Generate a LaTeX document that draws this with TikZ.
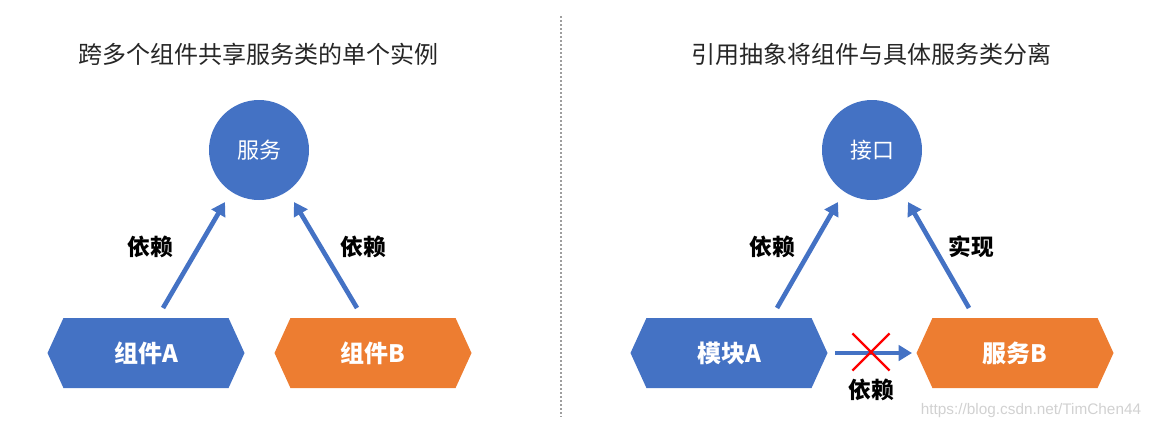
\documentclass[tikz,border=0pt]{standalone}
\usepackage{fontspec}
\setmainfont{Noto Sans CJK SC}
\newfontfamily\wmfont{Liberation Sans}
\usetikzlibrary{arrows.meta,shapes.symbols,shapes.misc}
\definecolor{svcblue}{HTML}{4472C4}
\definecolor{svcorange}{HTML}{ED7D31}
\begin{document}
\begin{tikzpicture}[x=0.75pt,y=-0.75pt,
	hexa/.style={signal, signal to=west and east, signal pointer angle=131,
		minimum width=147.75pt, minimum height=52.5pt, inner sep=0pt,
		text=white, font=\bfseries\fontsize{18}{20}\selectfont},
	ball/.style={circle, fill=svcblue, minimum size=75pt, inner sep=0pt,
		text=white, font=\fontsize{16.5}{18}\selectfont},
	dep/.style={svcblue, line width=3.5pt, -{Triangle[length=10pt,width=11.5pt]}},
	lbl/.style={font=\bfseries\fontsize{17}{19}\selectfont},
	title/.style={text=black!85, font=\fontsize{18}{20}\selectfont}]
	\useasboundingbox (0,0) rectangle (1150,430);
	% left: shared service
	\node[title] (ltitle) at (258,54) {跨多个组件共享服务类的单个实例};
	\node[ball] (svc) at (259,150) {服务};
	\node[hexa, fill=svcblue] (gA) at (146,353) {组件A};
	\node[hexa, fill=svcorange] (gB) at (373,353) {组件B};
	\draw[dep] ([shift={(17,-45)}]gA.center) -- ([shift={(-34,52)}]svc.center);
	\draw[dep] ([shift={(-16,-45)}]gB.center) -- ([shift={(35,52)}]svc.center);
	\node[lbl] (depA) at (150,247) {依赖};
	\node[lbl] (depB) at (363,247) {依赖};
	% divider
	\draw[black!38, line width=1.3pt, dash pattern=on 1.5pt off 1.5pt] (561,16) -- (561,417);
	% right: abstraction
	\node[title] (rtitle) at (871,54) {引用抽象将组件与具体服务类分离};
	\node[ball] (itf) at (872,150) {接口};
	\node[hexa, fill=svcblue] (mA) at (729,353) {模块A};
	\node[hexa, fill=svcorange] (sB) at (1015,353) {服务B};
	\draw[dep] ([shift={(48,-45)}]mA.center) -- ([shift={(-34,52)}]itf.center);
	\draw[dep] ([shift={(-46,-45)}]sB.center) -- ([shift={(36,52)}]itf.center);
	\draw[dep, line width=3pt] ([shift={(106,0)}]mA.center) -- ([shift={(-103,0)}]sB.center);
	\node[cross out, draw=red, line width=1.8pt, minimum size=26pt, inner sep=0pt] (cut) at (871,352) {};
	\node[lbl] (depM) at (772,247) {依赖};
	\node[lbl] (impl) at (971,247) {实现};
	\node[lbl] (depX) at (871,390) {依赖};
	\node[text=black!18, font=\wmfont\fontsize{11.5}{13}\selectfont] (wm) at (1031,411) {https://blog.csdn.net/TimChen44};
\end{tikzpicture}
\end{document}
